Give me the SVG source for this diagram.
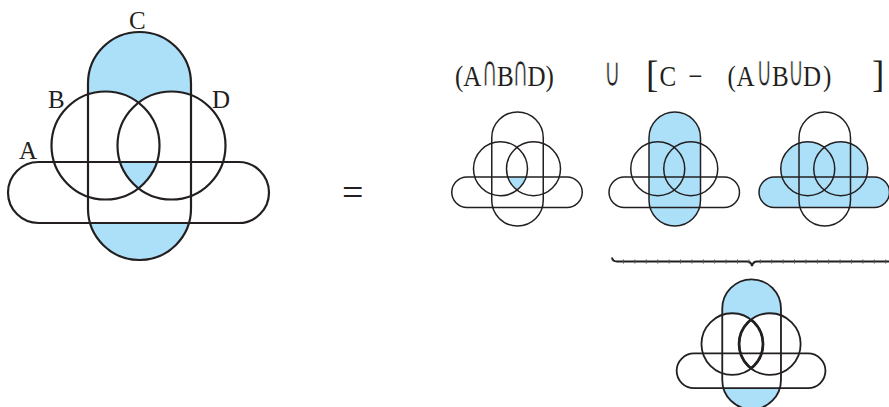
<svg xmlns="http://www.w3.org/2000/svg" xmlns:xlink="http://www.w3.org/1999/xlink" width="889" height="407" viewBox="0 0 889 407">
<style>
.bg{fill:#ffffff}
.blue{fill:#abe0f8;stroke:none}
.white{fill:#ffffff;stroke:none}
.out{fill:none;stroke:#231f20}
.lbl{font-family:"Liberation Serif","Times New Roman",serif;font-size:25px;fill:#231f20}
.ttl{font-family:"Liberation Serif","Times New Roman",serif;font-size:25px;fill:#231f20}
.sym{font-family:"DejaVu Sans","Liberation Serif",sans-serif;font-size:28px;fill:#231f20;text-anchor:middle;stroke:#ffffff;stroke-width:0.5px}
.brk{font-family:"Liberation Serif","Times New Roman",serif;font-size:37px;fill:#231f20}
</style>
<defs>
<rect id="sC" x="88" y="32" width="103" height="228" rx="51.5"/>
<rect id="sA" x="8" y="162" width="261" height="61" rx="30.5"/>
<circle id="sB" cx="105.5" cy="145.5" r="54"/>
<circle id="sD" cx="171.5" cy="145.5" r="54"/>
<clipPath id="clipA"><use xlink:href="#sA"/></clipPath>
<clipPath id="clipB"><use xlink:href="#sB"/></clipPath>
<clipPath id="clipD"><use xlink:href="#sD"/></clipPath>
</defs>
<rect class="bg" x="0" y="0" width="889" height="407"/>

<g id="main">
<use xlink:href="#sC" class="blue"/>
<use xlink:href="#sA" class="white"/>
<use xlink:href="#sB" class="white"/>
<use xlink:href="#sD" class="white"/>
<g clip-path="url(#clipA)"><use xlink:href="#sB" class="blue" clip-path="url(#clipD)"/></g>
<g class="out" stroke-width="2.2">
<use xlink:href="#sC"/><use xlink:href="#sA"/><use xlink:href="#sB"/><use xlink:href="#sD"/>
</g>
<text class="lbl" x="129" y="29">C</text>
<text class="lbl" x="48" y="108">B</text>
<text class="lbl" x="212" y="108">D</text>
<text class="lbl" x="19" y="159">A</text>
</g>

<g id="equals"><text x="342" y="205" style="font-family:'Liberation Serif',serif;font-size:38px;fill:#231f20">=</text></g>

<g id="title">
<text class="ttl" transform="translate(455,86) scale(1,1.2)">(A</text>
<text class="sym" transform="translate(489.7,86) scale(0.76,1.55)">∩</text>
<text class="ttl" transform="translate(497,86) scale(1,1.2)">B</text>
<text class="sym" transform="translate(520.5,86) scale(0.76,1.55)">∩</text>
<text class="ttl" transform="translate(527.5,86) scale(1,1.2)">D)</text>
<text class="sym" transform="translate(612.5,86) scale(0.8,1.45)">∪</text>
<text class="brk" x="646" y="86.5">[</text>
<text class="ttl" transform="translate(659.5,86) scale(1,1.2)">C</text>
<text class="ttl" transform="translate(688.5,86) scale(1,1.2)">−</text>
<text class="ttl" transform="translate(727.5,86) scale(1,1.2)">(</text>
<text class="ttl" transform="translate(736.5,86) scale(1,1.2)">A</text>
<text class="sym" transform="translate(764.2,86) scale(0.76,1.55)">∪</text>
<text class="ttl" transform="translate(772,86) scale(1,1.2)">B</text>
<text class="sym" transform="translate(796,86) scale(0.76,1.55)">∪</text>
<text class="ttl" transform="translate(803,86) scale(1,1.2)">D</text>
<text class="ttl" transform="translate(823,86) scale(1,1.2)">)</text>
<text class="brk" x="872" y="86.5">]</text>
</g>

<g id="d1" transform="translate(447.75,96) scale(0.5)">
<g clip-path="url(#clipA)"><use xlink:href="#sB" class="blue" clip-path="url(#clipD)"/></g>
<g class="out" stroke-width="3">
<use xlink:href="#sC"/><use xlink:href="#sA"/><use xlink:href="#sB"/><use xlink:href="#sD"/>
</g>
</g>

<g id="d2" transform="translate(605,96) scale(0.5)">
<use xlink:href="#sC" class="blue"/>
<g class="out" stroke-width="3">
<use xlink:href="#sC"/><use xlink:href="#sA"/><use xlink:href="#sB"/><use xlink:href="#sD"/>
</g>
</g>

<g id="d3" transform="translate(755,96) scale(0.5)">
<use xlink:href="#sA" class="blue"/>
<use xlink:href="#sB" class="blue"/>
<use xlink:href="#sD" class="blue"/>
<g class="out" stroke-width="3">
<use xlink:href="#sC"/><use xlink:href="#sA"/><use xlink:href="#sB"/><use xlink:href="#sD"/>
</g>
</g>

<g id="brace">
<path class="out" stroke-width="2" d="M612,257.5 Q612.5,261.5 617,261.5 L747,261.5 Q751,261.5 752,266 Q753,261.5 757,261.5 L889,261.5"/>
<line x1="623" y1="261.5" x2="889" y2="261.5" stroke="#555" stroke-width="4" stroke-dasharray="1 10.4"/>
</g>

<g id="d4" transform="translate(672.1,261.1) scale(0.57)">
<use xlink:href="#sC" class="blue"/>
<use xlink:href="#sA" class="white"/>
<use xlink:href="#sB" class="white"/>
<use xlink:href="#sD" class="white"/>
<g class="out" stroke-width="3.2">
<use xlink:href="#sC"/><use xlink:href="#sA"/><use xlink:href="#sB"/><use xlink:href="#sD"/>
</g>
<g class="out" stroke-width="4.8">
<use xlink:href="#sB" clip-path="url(#clipD)"/>
<use xlink:href="#sD" clip-path="url(#clipB)"/>
</g>
</g>
</svg>
